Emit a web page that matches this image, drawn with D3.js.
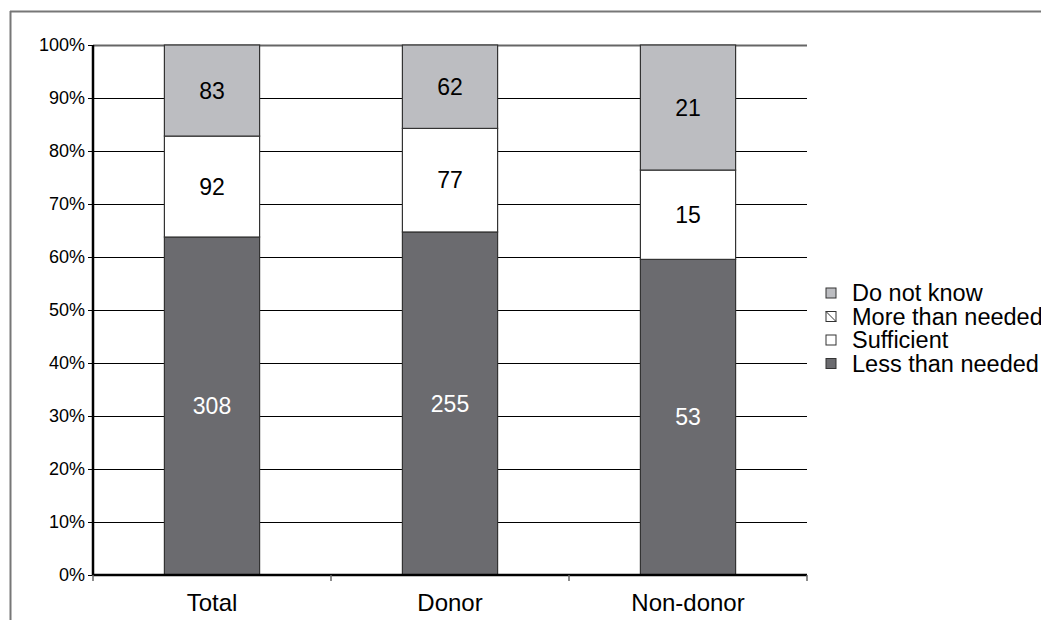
<!DOCTYPE html>
<html>
<head>
<meta charset="utf-8">
<script src="https://cdn.jsdelivr.net/npm/d3@7"></script>
<style>
  body { margin: 0; background: #fff; }
  svg { display: block; font-family: "Liberation Sans", Arial, sans-serif; }
</style>
</head>
<body>
<svg width="1041" height="620"></svg>
<script>
var categories = ["Total", "Donor", "Non-donor"];
var seriesNames = ["Less than needed", "Sufficient", "More than needed", "Do not know"];
var lessThanNeeded = [308, 255, 53];
var sufficient = [92, 77, 15];
var moreThanNeeded = [0, 0, 0];
var doNotKnow = [83, 62, 21];
var yTicks = [0, 0.1, 0.2, 0.3, 0.4, 0.5, 0.6, 0.7, 0.8, 0.9, 1];

var colors = {
    "Less than needed": "#6b6b6f",
    "Sufficient": "#ffffff",
    "More than needed": "#ffffff",
    "Do not know": "#bcbdc1"
};

var svg = d3.select("svg"),
    margin = {top: 45, left: 93},
    width = 714,
    height = 530,
    g = svg.append("g").attr("transform", "translate(" + margin.left + "," + margin.top + ")");

// outer frame
svg.append("line").attr("x1", 10).attr("x2", 1041).attr("y1", 11.5).attr("y2", 11.5)
    .attr("stroke", "#777").attr("stroke-width", 2);
svg.append("line").attr("x1", 10.5).attr("x2", 10.5).attr("y1", 11).attr("y2", 620)
    .attr("stroke", "#777").attr("stroke-width", 2);

var rows = categories.map(function (c, i) {
    return {
        cat: c,
        "Less than needed": lessThanNeeded[i],
        "Sufficient": sufficient[i],
        "More than needed": moreThanNeeded[i],
        "Do not know": doNotKnow[i]
    };
});

var stack = d3.stack().keys(seriesNames).offset(d3.stackOffsetExpand);
var layers = stack(rows);

var x = d3.scaleBand().domain(categories).range([0, width]).paddingInner(0).paddingOuter(0);
var y = d3.scaleLinear().domain([0, 1]).range([height, 0]);
var barW = x.bandwidth() * 0.4;

// gridlines
g.append("g").selectAll("line").data(yTicks.slice(1)).enter().append("line")
    .attr("x1", 0).attr("x2", width)
    .attr("y1", function (d) { return Math.round(y(d)) + 0.5; })
    .attr("y2", function (d) { return Math.round(y(d)) + 0.5; })
    .attr("stroke", function (d) { return d === 1 ? "#666" : "#000"; })
    .attr("stroke-width", function (d) { return d === 1 ? 2 : 1; });

// bars
var layer = g.selectAll(".layer").data(layers).enter().append("g")
    .attr("class", "layer")
    .attr("fill", function (d) { return colors[d.key]; });

layer.selectAll("rect").data(function (d) { return d.filter(function (p) { return p[1] > p[0]; }); })
    .enter().append("rect")
    .attr("x", function (d) { return x(d.data.cat) + (x.bandwidth() - barW) / 2; })
    .attr("y", function (d) { return y(d[1]); })
    .attr("width", barW)
    .attr("height", function (d) { return y(d[0]) - y(d[1]); })
    .attr("stroke", "#333")
    .attr("stroke-width", 1.2);

// value labels
layers.forEach(function (l) {
    g.append("g").selectAll("text").data(l.filter(function (p) { return p[1] > p[0]; })).enter().append("text")
        .attr("x", function (d) { return x(d.data.cat) + x.bandwidth() / 2; })
        .attr("y", function (d) { return (y(d[0]) + y(d[1])) / 2; })
        .attr("dy", "0.35em")
        .attr("text-anchor", "middle")
        .attr("font-size", 23)
        .attr("fill", l.key === "Less than needed" ? "#fff" : "#000")
        .text(function (d) { return d.data[l.key]; });
});

// y axis
var yAxis = g.append("g")
    .call(d3.axisLeft(y).tickValues(yTicks).tickFormat(d3.format(".0%")).tickSize(5).tickPadding(3));
yAxis.select(".domain").attr("stroke", "#000").attr("stroke-width", 2.5)
    .attr("d", "M0," + height + "V0");
yAxis.selectAll(".tick line").attr("stroke", "#000");
yAxis.selectAll(".tick text").attr("font-size", 18).attr("fill", "#000")
    .attr("font-family", "Liberation Sans, Arial, sans-serif");

// x axis
var xAxis = g.append("g").attr("transform", "translate(0," + height + ")");
xAxis.append("line").attr("x1", 0).attr("x2", width).attr("y1", 0).attr("y2", 0)
    .attr("stroke", "#000").attr("stroke-width", 2.5);
var bounds = categories.map(function (c) { return x(c); }).concat([width]);
xAxis.selectAll(".xt").data(bounds).enter().append("line")
    .attr("x1", function (d) { return d; }).attr("x2", function (d) { return d; })
    .attr("y1", 0).attr("y2", 6)
    .attr("stroke", "#666").attr("stroke-width", 1.5);
xAxis.selectAll(".xl").data(categories).enter().append("text")
    .attr("x", function (d) { return x(d) + x.bandwidth() / 2; })
    .attr("y", 36)
    .attr("text-anchor", "middle")
    .attr("font-size", 24)
    .attr("fill", "#000")
    .text(function (d) { return d; });

// legend
var legendOrder = ["Do not know", "More than needed", "Sufficient", "Less than needed"];
var legend = svg.append("g").attr("transform", "translate(826,288)");
var item = legend.selectAll("g").data(legendOrder).enter().append("g")
    .attr("transform", function (d, i) { return "translate(0," + i * 23.5 + ")"; });
item.append("rect").attr("x", 0).attr("y", 0).attr("width", 10).attr("height", 10)
    .attr("fill", function (d) { return colors[d]; })
    .attr("stroke", "#333").attr("stroke-width", 1);
item.filter(function (d) { return d === "More than needed"; }).append("line")
    .attr("x1", 0).attr("y1", 0).attr("x2", 10).attr("y2", 10)
    .attr("stroke", "#333").attr("stroke-width", 1);
item.append("text").attr("x", 26).attr("y", 5).attr("dy", "0.35em")
    .attr("font-size", 23.5).attr("fill", "#000")
    .text(function (d) { return d; });
</script>
</body>
</html>
